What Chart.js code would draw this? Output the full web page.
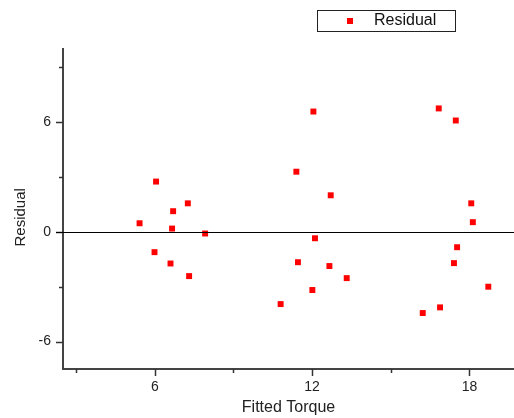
<!DOCTYPE html>
<html>
<head>
<meta charset="utf-8">
<script src="https://cdn.jsdelivr.net/npm/chart.js@4.4.1/dist/chart.umd.min.js"></script>
<style>
  body { margin: 0; background: #fff; }
  #wrap { width: 514px; height: 418px; }
</style>
</head>
<body>
<div id="wrap"><canvas id="chart"></canvas></div>
<script>
// data
const seriesName = 'Residual';
const fittedTorque = [5.42, 6.05, 5.99, 6.70, 6.66, 6.60, 7.26, 7.31, 7.92,
                      10.80, 11.40, 11.46, 12.05, 12.01, 12.11, 12.66, 12.71, 13.32,
                      16.22, 16.83, 16.88, 17.41, 17.48, 17.53, 18.07, 18.13, 18.72];
const residual = [0.47, 2.75, -1.11, 1.13, 0.18, -1.73, 1.56, -2.42, -0.09,
                  -3.95, 3.29, -1.66, 6.58, -3.18, -0.35, -1.87, 2.00, -2.53,
                  -4.44, 6.75, -4.13, -1.71, 6.09, -0.84, 1.56, 0.53, -3.00];
const xTicks = [3, 6, 9, 12, 15, 18];
const yTicks = [-6, -3, 0, 3, 6, 9];
const xLabelled = [6, 12, 18];
const yLabelled = [-6, 0, 6];

const FONT = 'Arial, "Liberation Sans", sans-serif';
const AXIS = '#444';

// minor/major tick marks, drawn outward, plus the zero line
const tickMarks = {
  id: 'tickMarks',
  afterDraw(chart) {
    const ctx = chart.ctx;
    const xs = chart.scales.x, ys = chart.scales.y;
    const area = chart.chartArea;
    ctx.save();
    ctx.strokeStyle = '#333';
    ctx.lineWidth = 1.5;
    xTicks.forEach(v => {
      const px = Math.round(xs.getPixelForValue(v)) + 0.5;
      const len = xLabelled.includes(v) ? 7 : 4;
      ctx.beginPath();
      ctx.moveTo(px, area.bottom);
      ctx.lineTo(px, area.bottom + len);
      ctx.stroke();
    });
    yTicks.forEach(v => {
      const py = Math.round(ys.getPixelForValue(v)) + 0.5;
      const len = yLabelled.includes(v) ? 7 : 4;
      ctx.beginPath();
      ctx.moveTo(area.left - len, py);
      ctx.lineTo(area.left, py);
      ctx.stroke();
    });
    const y0 = Math.round(ys.getPixelForValue(0)) + 0.5;
    ctx.strokeStyle = '#000';
    ctx.lineWidth = 1;
    ctx.beginPath();
    ctx.moveTo(area.left - 7, y0);
    ctx.lineTo(area.right, y0);
    ctx.stroke();
    ctx.restore();
  }
};

// boxed legend at the top right
const boxLegend = {
  id: 'boxLegend',
  afterDraw(chart) {
    const ctx = chart.ctx;
    const ds = chart.data.datasets[0];
    ctx.save();
    ctx.strokeStyle = '#222';
    ctx.lineWidth = 1;
    ctx.strokeRect(317.5, 10.5, 138, 21);
    ctx.fillStyle = ds.backgroundColor;
    ctx.fillRect(347, 18, 6, 6);
    ctx.fillStyle = '#111';
    ctx.font = '16px ' + FONT;
    ctx.textBaseline = 'middle';
    ctx.fillText(ds.label, 374, 21);
    ctx.restore();
  }
};

new Chart(document.getElementById('chart'), {
  type: 'scatter',
  data: {
    datasets: [{
      label: seriesName,
      data: fittedTorque.map((x, i) => ({ x: x, y: residual[i] })),
      backgroundColor: '#ff0000',
      borderWidth: 0,
      pointStyle: 'rect',
      pointRadius: 4.2,
      pointHoverRadius: 4.2,
      clip: false
    }]
  },
  options: {
    responsive: true,
    maintainAspectRatio: false,
    devicePixelRatio: 1,
    animation: false,
    layout: { autoPadding: false, padding: { top: 49, right: 0, left: 0, bottom: 0 } },
    plugins: {
      legend: { display: false },
      tooltip: { enabled: false }
    },
    scales: {
      x: {
        type: 'linear',
        min: 2.5,
        max: 19.7,
        afterBuildTicks: s => { s.ticks = xTicks.map(v => ({ value: v })); },
        afterFit: s => { s.height = 49; },
        ticks: {
          autoSkip: false,
          maxRotation: 0,
          padding: 3,
          color: '#222',
          font: { family: FONT, size: 14 },
          callback: v => xLabelled.includes(v) ? String(v) : ''
        },
        grid: { drawOnChartArea: false, tickLength: 7, tickColor: 'rgba(0,0,0,0)' },
        border: { color: AXIS, width: 2 },
        title: {
          display: true,
          text: 'Fitted Torque',
          color: '#222',
          font: { family: FONT, size: 16 },
          padding: { top: 0, bottom: 1 }
        }
      },
      y: {
        type: 'linear',
        min: -7.5,
        max: 10,
        afterBuildTicks: s => { s.ticks = yTicks.map(v => ({ value: v })); },
        afterFit: s => { s.width = 63; },
        ticks: {
          autoSkip: false,
          padding: 5,
          color: '#222',
          font: { family: FONT, size: 14 },
          callback: v => yLabelled.includes(v) ? String(v) : ''
        },
        grid: { drawOnChartArea: false, tickLength: 7, tickColor: 'rgba(0,0,0,0)' },
        border: { color: AXIS, width: 2 },
        title: {
          display: true,
          // trailing spaces nudge the rotated title down a little
          text: 'Residual    ',
          color: '#222',
          font: { family: FONT, size: 15 },
          padding: { top: 12, bottom: 0 }
        }
      }
    }
  },
  plugins: [tickMarks, boxLegend]
});
</script>
</body>
</html>
